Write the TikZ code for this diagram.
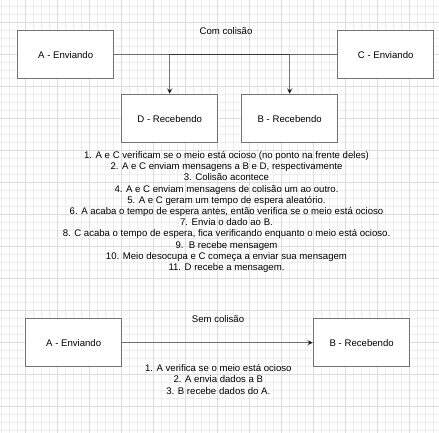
\documentclass[tikz,border=0pt]{standalone}
\usepackage{fontspec}
\setmainfont{Liberation Sans}
\usetikzlibrary{arrows.meta}

\begin{document}
\begin{tikzpicture}[x=1pt,y=-1pt,
  box/.style={draw=black!55,line width=1.3pt,fill=white,minimum width=96pt,minimum height=48pt,inner sep=0pt,font=\fontsize{9.6}{11.2}\selectfont},
  conn/.style={draw=black,draw opacity=0.5,line width=1pt,-{Stealth[length=6pt,width=6pt,inset=2pt]}},
  txt/.style={align=center,inner sep=0pt,font=\fontsize{9.6}{11.2}\selectfont}]

\useasboundingbox (0,0) rectangle (439,433);

% background grid, minor and major lines
\foreach \i in {0,...,54}
\draw[black!7,line width=0.6pt] (1.7+8*\i,0) -- (1.7+8*\i,433);
\foreach \i in {0,...,53}
\draw[black!7,line width=0.6pt] (0,6.7+8*\i) -- (439,6.7+8*\i);
\foreach \i in {0,...,13}
\draw[black!14,line width=0.6pt] (25.7+32*\i,0) -- (25.7+32*\i,433);
\foreach \i in {0,...,12}
\draw[black!14,line width=0.6pt] (0,22.7+32*\i) -- (439,22.7+32*\i);


% with collision
\node [box] (A) at (65.7,54.7) {A - Enviando};
\node [box] (C) at (385.7,54.7) {C - Enviando};
\node [box] (D) at (169.7,118.7) {D - Recebendo};
\node [box] (B) at (289.7,118.7) {B - Recebendo};

\draw[conn] (A.east) -| (B.north);
\draw[conn] (C.west) -| (D.north);

\node [txt] (titulo1) at (226,31.5) {Com colisão};

\node [txt] (passos1) at (226.5,212) {1. A e C verificam se o meio está ocioso (no ponto na frente deles)\\
2. A e C enviam mensagens a B e D, respectivamente\\
3. Colisão acontece\\
4. A e C enviam mensagens de colisão um ao outro.\\
5. A e C geram um tempo de espera aleatório.\\
6. A acaba o tempo de espera antes, então verifica se o meio está ocioso\\
7. Envia o dado ao B.\\
8. C acaba o tempo de espera, fica verificando enquanto o meio está ocioso.\\
9.\ \ B recebe mensagem\\
10. Meio desocupa e C começa a enviar sua mensagem\\
11. D recebe a mensagem.};


% without collision
\node [box] (A2) at (73.7,342.7) {A - Enviando};
\node [box] (B2) at (361.7,342.7) {B - Recebendo};

\draw[conn] (A2) -- (B2);

\node [txt] (titulo2) at (218,319.5) {Sem colisão};

\node [txt] (passos2) at (218.3,379.5) {1. A verifica se o meio está ocioso\\
2. A envia dados a B\\
3. B recebe dados do A.};

\end{tikzpicture}
\end{document}
